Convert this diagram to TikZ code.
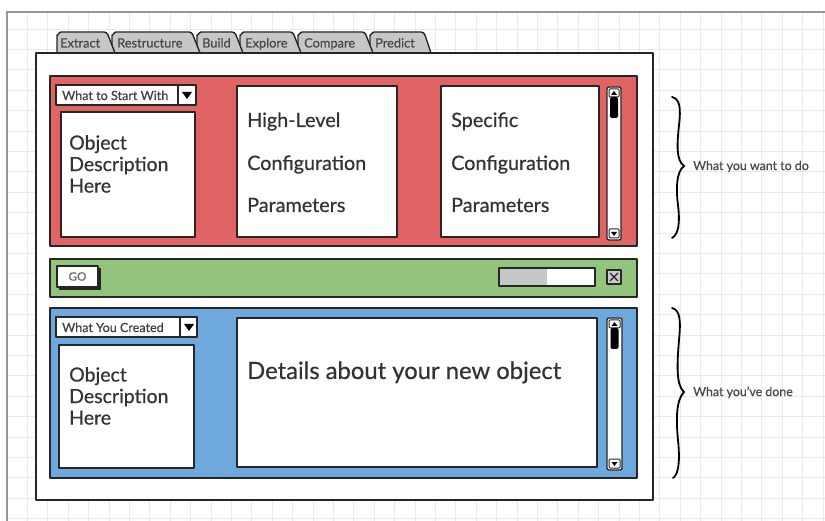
\documentclass[tikz,border=0pt]{standalone}
\usepackage{fontspec}
\setmainfont{Lato}[FakeBold=0.5]
\begin{document}
\begin{tikzpicture}[x=1pt,y=-1pt,
  ink/.style={draw=black!85, line width=1.6pt, line join=round},
  panelbox/.style={ink, line width=1.9pt},
  whitebox/.style={ink, fill=white},
  tabshape/.style={ink, line width=1.4pt, fill=black!22},
  tablabel/.style={anchor=base west, inner sep=0pt, font=\fontsize{12.8}{14}\selectfont, text=black!72},
  biglabel/.style={anchor=base west, inner sep=0pt, font=\fontsize{19.8}{24}\selectfont, text=black!80},
  desclabel/.style={anchor=north west, inner sep=0pt, align=left, font=\fontsize{19.5}{21.5}\selectfont, text=black!80},
  droplabel/.style={anchor=base west, inner sep=0pt, font=\fontsize{12.6}{14}\selectfont, text=black!75},
  smalllabel/.style={anchor=base west, inner sep=0pt, font=\fontsize{12.4}{14}\selectfont, text=black!72},
  bracepath/.style={draw=black, line width=1.8pt, line cap=round}
]
\definecolor{redpanel}{RGB}{224,100,100}
\definecolor{greenpanel}{RGB}{147,196,125}
\definecolor{bluepanel}{RGB}{111,168,220}
\definecolor{gridline}{RGB}{234,234,234}
\definecolor{framegray}{RGB}{150,150,150}

\useasboundingbox (0,0) rectangle (825,521);
\fill[white] (0,0) rectangle (825,521);

% background grid and frame
\begin{scope}
  \clip (7,12) rectangle (825,521);
  \foreach \i in {0,...,40} \draw[gridline, line width=1pt] (7+20.4*\i,12) -- (7+20.4*\i,521);
  \foreach \j in {0,...,25} \draw[gridline, line width=1pt] (7,8.7+20.4*\j) -- (825,8.7+20.4*\j);
\end{scope}
\draw[framegray, line width=1.4pt] (7,521) -- (7,12) -- (825,12);

% tabs, drawn right to left so each tab covers the next one's left edge
\draw[tabshape] (370,53) -- (370,35) to[out=-90,in=180] (374,32) -- (421,32) to[out=0,in=115] (425,35) -- (431,53);
\draw[tabshape] (298,53) -- (298,35) to[out=-90,in=180] (302,32) -- (362,32) to[out=0,in=115] (366,35) -- (373,53);
\draw[tabshape] (240,53) -- (240,35) to[out=-90,in=180] (244,32) -- (290,32) to[out=0,in=115] (294,35) -- (301,53);
\draw[tabshape] (197,53) -- (197,35) to[out=-90,in=180] (201,32) -- (232,32) to[out=0,in=115] (236,35) -- (243,53);
\draw[tabshape] (112,53) -- (112,35) to[out=-90,in=180] (116,32) -- (189,32) to[out=0,in=115] (193,35) -- (200,53);
\draw[tabshape] (57,53) -- (57,35) to[out=-90,in=180] (61,32) -- (104,32) to[out=0,in=115] (108,35) -- (115,53);
\node[tablabel] (tExtract) at (60,47.5) {Extract};
\node[tablabel] (tRestructure) at (117,47.5) {Restructure};
\node[tablabel] (tBuild) at (202,47.5) {Build};
\node[tablabel] (tExplore) at (245,47.5) {Explore};
\node[tablabel] (tCompare) at (304,47.5) {Compare};
\node[tablabel] (tPredict) at (375,47.5) {Predict};

% main window
\draw[ink, line width=1.9pt, fill=white] (36,53) rectangle (653,500);

% ---- top (red) panel
\draw[panelbox, fill=redpanel] (50,76) rectangle (637,246);
\draw[whitebox, line width=1.4pt] (56,85) rectangle (196,105);
\draw[ink, line width=1.4pt] (178,85) -- (178,105);
\fill[black] (182,92) -- (192,92) -- (187,99) -- cycle;
\node[droplabel] (ddStart) at (62,100) {What to Start With};

\draw[whitebox] (61,112) rectangle (195,237);
\node[desclabel] (descTop) at (69,135) {Object\\Description\\Here};

\draw[whitebox] (237,86) rectangle (397,237);
\node[biglabel] (hl1) at (247,127) {High-Level};
\node[biglabel] (hl2) at (247,170) {Configuration};
\node[biglabel] (hl3) at (247,212) {Parameters};

\draw[whitebox] (441,86) rectangle (599,237);
\node[biglabel] (sp1) at (451,127) {Specific};
\node[biglabel] (sp2) at (451,170) {Configuration};
\node[biglabel] (sp3) at (451,212) {Parameters};

% scrollbar (top)
\draw[whitebox, line width=1.3pt, rounded corners=2pt] (607,87) rectangle (621,240);
\draw[ink, line width=1pt, rounded corners=1pt] (609,89) rectangle (619,97);
\fill[black] (611,95) -- (617,95) -- (614,91) -- cycle;
\fill[black, rounded corners=2pt] (610,97) rectangle (618,118);
\draw[ink, line width=1pt, rounded corners=1pt] (609,229) rectangle (619,238);
\fill[black] (611,232) -- (617,232) -- (614,236) -- cycle;

% ---- middle (green) bar
\draw[panelbox, fill=greenpanel] (50,259) rectangle (637,297);
\fill[black!85] (59,268) rectangle (101,290);
\draw[whitebox, line width=1.3pt] (57,266) rectangle (98,287);
\node[inner sep=0pt, font=\fontsize{11.5}{13}\selectfont, text=black!60] (go) at (77.5,276.5) {GO};
\fill[black!22] (499,268) rectangle (547,286);
\fill[white] (547,268) rectangle (595,286);
\draw[ink, line width=1.5pt] (499,268) rectangle (595,286);
\draw[ink, line width=1.2pt, fill=black!20] (607,270) rectangle (621,284);
\draw[black!85, line width=1.4pt] (610,273) -- (618,281) (618,273) -- (610,281);

% ---- bottom (blue) panel
\draw[panelbox, fill=bluepanel] (50,308) rectangle (637,478);
\draw[whitebox, line width=1.4pt] (56,317) rectangle (197,337);
\draw[ink, line width=1.4pt] (180,317) -- (180,337);
\fill[black] (184,324) -- (194,324) -- (189,331) -- cycle;
\node[droplabel] (ddCreated) at (62,332) {What You Created};

\draw[whitebox] (59,345) rectangle (194,468);
\node[desclabel] (descBottom) at (69,367) {Object\\Description\\Here};

\draw[whitebox] (237,318) rectangle (597,467);
\node[anchor=base west, inner sep=0pt, font=\fontsize{23.8}{28}\selectfont, text=black!80] (details) at (247,379) {Details about your new object};

% scrollbar (bottom)
\draw[whitebox, line width=1.3pt, rounded corners=2pt] (607,318) rectangle (622,470);
\draw[ink, line width=1pt, rounded corners=1pt] (609,320) rectangle (620,328);
\fill[black] (611.5,326) -- (617.5,326) -- (614.5,322) -- cycle;
\fill[black, rounded corners=2pt] (610.5,328) rectangle (618.5,349);
\draw[ink, line width=1pt, rounded corners=1pt] (609,459) rectangle (620,468);
\fill[black] (611.5,462) -- (617.5,462) -- (614.5,466) -- cycle;

% ---- braces and their notes
\coordinate (b1top) at (672,97);
\coordinate (b1tip) at (684,166);
\coordinate (b1bot) at (672,238);
\draw[bracepath] (b1top) .. controls (680,99) and (681,108) .. (679,125)
  .. controls (677,145) and (676,160) .. (b1tip)
  .. controls (676,172) and (676,190) .. (678,205)
  .. controls (680,222) and (679,234) .. (b1bot);
\node[smalllabel] (noteWant) at (693,170) {What you want to do};

\coordinate (b2top) at (672,308);
\coordinate (b2tip) at (684,392);
\coordinate (b2bot) at (673,478);
\draw[bracepath] (b2top) .. controls (680,310) and (681,320) .. (679,340)
  .. controls (677,365) and (676,385) .. (b2tip)
  .. controls (676,400) and (676,420) .. (678,440)
  .. controls (680,460) and (679,474) .. (b2bot);
\node[smalllabel] (noteDone) at (693,396) {What you've done};
\end{tikzpicture}
\end{document}
